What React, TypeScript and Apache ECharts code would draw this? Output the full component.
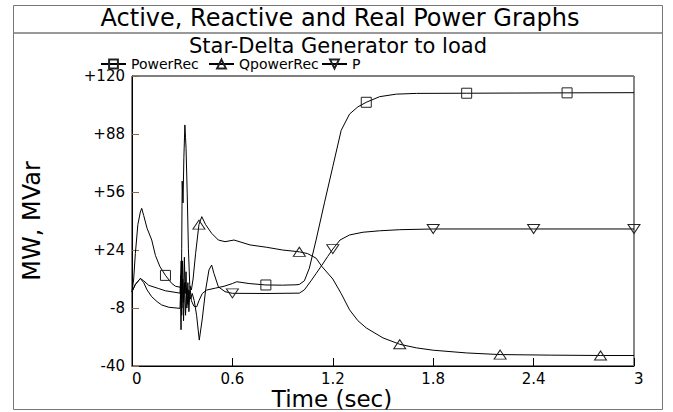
import React, { useEffect, useRef } from "react";
import * as echarts from "echarts";

// ---- data ----
const titleText = "Active, Reactive and Real Power Graphs";
const subtitleText = "Star-Delta Generator to load";
const yAxisTitle = "MW, MVar";
const xAxisTitle = "Time (sec)";
const seriesNames = ["PowerRec", "QpowerRec", "P"];

const xTicks = [0, 0.6, 1.2, 1.8, 2.4, 3];
const yTicks = [-40, -8, 24, 56, 88, 120];

// [time (s), value]
const powerRec: number[][] = [
  [0, 1], [0.01, 8], [0.02, 22], [0.035, 38], [0.05, 45], [0.058, 47], [0.07, 43], [0.09, 36],
  [0.118, 29.5], [0.14, 21], [0.167, 14.8], [0.2, 10], [0.237, 5.6], [0.26, 4], [0.287, 3.5],
  [0.29, 3], [0.293, -20], [0.297, 25], [0.3, 62], [0.305, 50], [0.31, 75], [0.316, 93], [0.32, 86],
  [0.323, 80], [0.33, 55], [0.337, 25], [0.345, 5], [0.355, -4], [0.37, -7], [0.387, -7.3], [0.4, -4],
  [0.42, 0], [0.446, 1.9], [0.5, 3], [0.55, 4], [0.6, 5.5], [0.626, 6.5], [0.7, 5.5], [0.8, 4.7],
  [0.9, 4.6], [0.98, 4.8], [1.0, 5], [1.03, 7], [1.06, 14], [1.1, 29.5], [1.15, 50], [1.2, 70],
  [1.25, 90], [1.3, 99], [1.35, 103], [1.4, 105.5], [1.48, 108.6], [1.58, 110], [1.7, 110.4],
  [2.0, 110.5], [2.3, 110.6], [2.6, 110.7], [3.0, 110.8],
];
const qPowerRec: number[][] = [
  [0, 1], [0.02, 5], [0.05, 8.3], [0.07, 6], [0.09, 2], [0.118, -1.8], [0.15, -4.5], [0.177, -6.3],
  [0.22, -7.6], [0.287, -8.2], [0.29, -8], [0.293, 10], [0.297, -12], [0.302, 18], [0.308, -5],
  [0.313, 20], [0.318, 0], [0.323, 12], [0.328, -8], [0.334, 6], [0.34, -10], [0.347, 4], [0.355, 2],
  [0.365, 8], [0.38, 22], [0.4, 38], [0.417, 42.4], [0.44, 38], [0.476, 33.2], [0.516, 29.5],
  [0.556, 28.6], [0.61, 29.5], [0.705, 26.8], [0.805, 25.5], [0.9, 24], [1.0, 23], [1.05, 22],
  [1.1, 19.5], [1.134, 15], [1.2, 8], [1.25, 0], [1.3, -9], [1.35, -15], [1.4, -19], [1.5, -24.5],
  [1.6, -28], [1.7, -30], [1.8, -31.3], [2.0, -32.8], [2.2, -33.7], [2.5, -34], [2.8, -34.2], [3.0, -34.2],
];
const pSeries: number[][] = [
  [0, 1], [0.02, 5], [0.05, 8.3], [0.07, 7], [0.1, 4.5], [0.157, 2.8], [0.2, 1.5], [0.287, 0.2],
  [0.29, 0], [0.294, 18], [0.298, -8], [0.303, 8], [0.308, -15], [0.314, 6], [0.32, -12], [0.326, 3],
  [0.333, -6], [0.34, 2], [0.35, -3], [0.36, 0], [0.372, -4], [0.386, -12], [0.402, -25.7], [0.42, -14],
  [0.44, 2], [0.46, 13], [0.476, 15.7], [0.49, 11], [0.516, 3.7], [0.556, 1], [0.6, 0.1], [0.8, 0],
  [1.0, 0.2], [1.03, 2], [1.07, 7], [1.1, 11], [1.134, 15.5], [1.17, 20.5], [1.2, 24.5], [1.243, 29.5],
  [1.3, 32.3], [1.38, 33.8], [1.48, 34.6], [1.6, 35.2], [1.8, 35.6], [2.4, 35.6], [3.0, 35.6],
];

// times at which the markers sit on each curve
const powerRecMarkers = [0.2, 0.8, 1.4, 2.0, 2.6];
const qPowerRecMarkers = [0.4, 1.0, 1.6, 2.2, 2.8];
const pMarkers = [0.6, 1.2, 1.8, 2.4, 3.0];

const FONT = "'DejaVu Sans', sans-serif";

const SYM_SQUARE = "rect";
const SYM_UP = "path://M5,0L10,9L0,9Z";
const SYM_DOWN = "path://M0,0L10,0L5,9Z";

function makeLine(name: string, data: number[][], symbol: string, markers: number[], size: number | number[]) {
  return {
    name,
    type: "line",
    data,
    symbol,
    symbolKeepAspect: false,
    showSymbol: true,
    symbolSize: (v: number[]) => (markers.indexOf(v[0]) >= 0 ? size : 0),
    itemStyle: { color: "rgba(255,255,255,0)", borderColor: "#222", borderWidth: 1 },
    lineStyle: { color: "#000", width: 1 },
    emphasis: { disabled: true },
    silent: true,
  };
}

export default function App() {
  const ref = useRef<HTMLDivElement>(null);
  useEffect(() => {
    document.body.style.margin = "0";
    const chart = echarts.init(ref.current!, null, { renderer: "svg" });
    const fmtY = (v: number) => (v > 0 ? "+" + v : String(v));
    const fmtX = (v: number) => String(Math.round(v * 10) / 10);
    const legendBase = {
      top: 57,
      itemWidth: 25,
      itemHeight: 11,
      padding: 0,
      textStyle: { fontFamily: FONT, fontSize: 14, lineHeight: 12, color: "#000" },
      selectedMode: false,
    };
    chart.setOption({
      animation: false,
      backgroundColor: "#fff",
      title: [
        { text: titleText, left: 340, textAlign: "center", top: 6, padding: 0, textStyle: { fontFamily: FONT, fontSize: 24, lineHeight: 24, fontWeight: "normal", color: "#000" } },
        { text: subtitleText, left: 338, textAlign: "center", top: 36, padding: 0, textStyle: { fontFamily: FONT, fontSize: 21, lineHeight: 19, fontWeight: "normal", color: "#000" } },
      ],
      legend: [
        { ...legendBase, left: 100, data: [seriesNames[0]] },
        { ...legendBase, left: 208, data: [seriesNames[1]] },
        { ...legendBase, left: 321, data: [seriesNames[2]] },
      ],
      grid: { left: 132, top: 76, right: 39, bottom: 46, show: true, borderColor: "#000", borderWidth: 1, containLabel: false },
      xAxis: {
        type: "value",
        min: 0,
        max: 3,
        interval: 0.6,
        axisLine: { onZero: false, lineStyle: { color: "#000" } },
        axisTick: { inside: true, length: 8, lineStyle: { color: "#000" } },
        axisLabel: { fontFamily: FONT, fontSize: 15, lineHeight: 15, color: "#000", margin: 5, formatter: fmtX, customValues: xTicks, alignMinLabel: "left", alignMaxLabel: "left" },
        splitLine: { show: false },
      },
      yAxis: {
        type: "value",
        min: -40,
        max: 120,
        name: yAxisTitle,
        nameLocation: "middle",
        nameGap: 88,
        nameTextStyle: { fontFamily: FONT, fontSize: 24, color: "#000" },
        axisLine: { onZero: false, lineStyle: { color: "#000" } },
        axisTick: { inside: true, length: 7, customValues: yTicks, lineStyle: { color: "#8a6a40" } },
        axisLabel: { fontFamily: FONT, fontSize: 15, color: "#000", margin: 7, formatter: fmtY, customValues: yTicks },
        splitLine: { show: false },
      },
      graphic: [
        { type: "rect", shape: { x: 13.5, y: 5.5, width: 649, height: 404 }, style: { fill: "none", stroke: "#777", lineWidth: 1 }, silent: true },
        { type: "line", shape: { x1: 14, y1: 33, x2: 662, y2: 33 }, style: { stroke: "#999", lineWidth: 2 }, silent: true },
        { type: "line", shape: { x1: 634, y1: 76, x2: 634, y2: 366 }, style: { stroke: "#888", lineWidth: 1.5 }, silent: true },
        { type: "text", x: 332, y: 399, style: { text: xAxisTitle, fontFamily: FONT, fontSize: 23, lineHeight: 20, fill: "#000", align: "center", verticalAlign: "middle" }, silent: true },
      ],
      series: [
        makeLine(seriesNames[0], powerRec, SYM_SQUARE, powerRecMarkers, 10),
        makeLine(seriesNames[1], qPowerRec, SYM_UP, qPowerRecMarkers, [12, 9]),
        makeLine(seriesNames[2], pSeries, SYM_DOWN, pMarkers, [12, 9]),
      ],
    });
    return () => chart.dispose();
  }, []);
  return <div ref={ref} style={{ width: 673, height: 412 }} />;
}
